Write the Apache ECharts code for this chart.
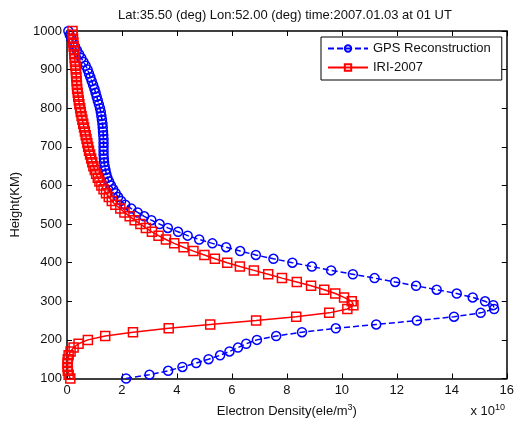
<!DOCTYPE html>
<html>
<head>
<meta charset="utf-8">
<script src="https://cdn.jsdelivr.net/npm/echarts@6/dist/echarts.min.js"></script>
<style>
html,body{margin:0;padding:0;background:#fff;}
#chart{width:517px;height:423px;}
</style>
</head>
<body>
<div id="chart"></div>
<script>
var titleText = 'Lat:35.50 (deg) Lon:52.00 (deg) time:2007.01.03 at 01 UT';
var seriesNames = ['GPS Reconstruction', 'IRI-2007'];
var xTicks = [0, 2, 4, 6, 8, 10, 12, 14, 16];
var yTicks = [100, 200, 300, 400, 500, 600, 700, 800, 900, 1000];

// heights (km)
var heights = [100,110,120,130,140,150,160,170,180,190,
  200,210,220,230,240,250,260,270,280,290,
  300,310,320,330,340,350,360,370,380,390,
  400,410,420,430,440,450,460,470,480,490,
  500,510,520,530,540,550,560,570,580,590,
  600,610,620,630,640,650,660,670,680,690,
  700,710,720,730,740,750,760,770,780,790,
  800,810,820,830,840,850,860,870,880,890,
  900,910,920,930,940,950,960,970,980,990,1000];

// electron density (x 1e10 ele/m^3), GPS reconstruction
var gpsDensity = [2.15,3.00,3.68,4.20,4.70,5.15,5.57,5.91,6.22,6.52,
  6.91,7.61,8.55,9.78,11.25,12.73,14.08,15.05,15.54,15.51,
  15.21,14.76,14.18,13.45,12.70,11.94,11.19,10.40,9.61,8.91,
  8.20,7.51,6.87,6.30,5.79,5.29,4.81,4.39,4.04,3.67,
  3.37,3.07,2.81,2.57,2.34,2.12,1.97,1.86,1.77,1.68,
  1.60,1.53,1.47,1.43,1.40,1.37,1.35,1.34,1.33,1.33,
  1.33,1.33,1.33,1.32,1.31,1.30,1.29,1.27,1.25,1.23,
  1.20,1.16,1.12,1.08,1.04,1.00,0.95,0.90,0.85,0.80,
  0.75,0.68,0.60,0.52,0.44,0.36,0.29,0.22,0.16,0.10,0.05];

// electron density (x 1e10 ele/m^3), IRI-2007
var iriDensity = [0.12,0.06,0.03,0.02,0.02,0.03,0.06,0.13,0.24,0.42,
  0.76,1.39,2.40,3.70,5.21,6.88,8.34,9.54,10.20,10.42,
  10.36,10.08,9.76,9.36,8.88,8.36,7.82,7.32,6.80,6.29,
  5.83,5.38,5.00,4.60,4.24,3.90,3.60,3.33,3.09,2.87,
  2.67,2.46,2.28,2.09,1.94,1.76,1.63,1.52,1.42,1.33,
  1.25,1.18,1.12,1.06,1.01,0.96,0.92,0.88,0.84,0.80,
  0.77,0.74,0.71,0.68,0.65,0.62,0.59,0.56,0.53,0.50,
  0.48,0.45,0.43,0.41,0.39,0.37,0.36,0.35,0.34,0.33,
  0.32,0.31,0.29,0.28,0.27,0.26,0.24,0.23,0.22,0.21,0.20];

function pairs(vals){
  return vals.map(function(v,i){ return [v, heights[i]]; });
}

var FONT = 'Liberation Sans, Arial, Helvetica, sans-serif';
var FS = 13;
var chart = echarts.init(document.getElementById('chart'), null, {renderer:'canvas'});

var axisLineStyle = {color:'#000', width:1.5};
var tickStyle = {show:true, inside:true, length:5, lineStyle:{color:'#000', width:1}};

var option = {
  backgroundColor:'#fff',
  animation:false,
  textStyle:{fontFamily:FONT},
  title:{
    text:titleText, left:280, top:4, textAlign:'center',
    textStyle:{fontSize:FS, fontWeight:'normal', color:'#111', fontFamily:FONT}
  },
  grid:{left:67, right:10, top:31, bottom:44, containLabel:false},
  legend:{
    data:seriesNames, orient:'vertical', left:321, top:37,
    itemWidth:40, itemHeight:8, itemGap:6,
    padding:[5,11,6,6],
    backgroundColor:'#fff', borderColor:'#000', borderWidth:1,
    textStyle:{fontSize:FS, color:'#111', fontFamily:FONT}
  },
  xAxis:[{
    type:'value', min:xTicks[0], max:xTicks[xTicks.length-1], interval:2,
    position:'bottom',
    name:'Electron Density(ele/m{sup|3})', nameLocation:'middle', nameGap:25,
    nameTextStyle:{fontSize:FS, color:'#111', fontFamily:FONT,
      rich:{sup:{fontSize:9, verticalAlign:'top', padding:[0,0,7,0], color:'#111'}}},
    axisLine:{show:true, onZero:false, lineStyle:axisLineStyle},
    axisTick:tickStyle,
    axisLabel:{fontSize:FS, color:'#111', margin:5, fontFamily:FONT},
    splitLine:{show:false}
  },{
    type:'value', min:xTicks[0], max:xTicks[xTicks.length-1], interval:2,
    position:'top',
    axisLine:{show:true, onZero:false, lineStyle:axisLineStyle},
    axisTick:tickStyle,
    axisLabel:{show:false}, splitLine:{show:false}
  }],
  yAxis:[{
    type:'value', min:yTicks[0], max:yTicks[yTicks.length-1], interval:100,
    position:'left',
    name:'Height(KM)', nameLocation:'middle', nameGap:40, nameRotate:90,
    nameTextStyle:{fontSize:FS, color:'#111', fontFamily:FONT},
    axisLine:{show:true, onZero:false, lineStyle:axisLineStyle},
    axisTick:tickStyle,
    axisLabel:{fontSize:FS, color:'#111', margin:5, fontFamily:FONT,
      formatter:function(v){ return String(v); }},
    splitLine:{show:false}
  },{
    type:'value', min:yTicks[0], max:yTicks[yTicks.length-1], interval:100,
    position:'right',
    axisLine:{show:true, onZero:false, lineStyle:axisLineStyle},
    axisTick:tickStyle,
    axisLabel:{show:false}, splitLine:{show:false}
  }],
  graphic:[{
    type:'text', right:12, top:403,
    style:{
      text:'x 10{sup|10}',
      font:FS + 'px ' + FONT,
      fill:'#111',
      rich:{sup:{fontSize:9, verticalAlign:'top', padding:[0,0,7,0], fill:'#111'}}
    }
  }],
  series:[{
    name:seriesNames[0], type:'line', xAxisIndex:0, yAxisIndex:0,
    data:pairs(gpsDensity),
    symbol:'circle', symbolSize:9, showSymbol:true,
    lineStyle:{color:'#0000ff', width:1.5, type:[6,3]},
    itemStyle:{color:'rgba(255,255,255,0)', borderColor:'#0000ff', borderWidth:1.5},
    emphasis:{disabled:true}, z:2
  },{
    name:seriesNames[1], type:'line', xAxisIndex:0, yAxisIndex:0,
    data:pairs(iriDensity),
    symbol:'rect', symbolSize:9, showSymbol:true,
    lineStyle:{color:'#ff0000', width:1.5},
    itemStyle:{color:'rgba(255,255,255,0)', borderColor:'#ff0000', borderWidth:1.5},
    emphasis:{disabled:true}, z:3
  }]
};
chart.setOption(option);
</script>
</body>
</html>
